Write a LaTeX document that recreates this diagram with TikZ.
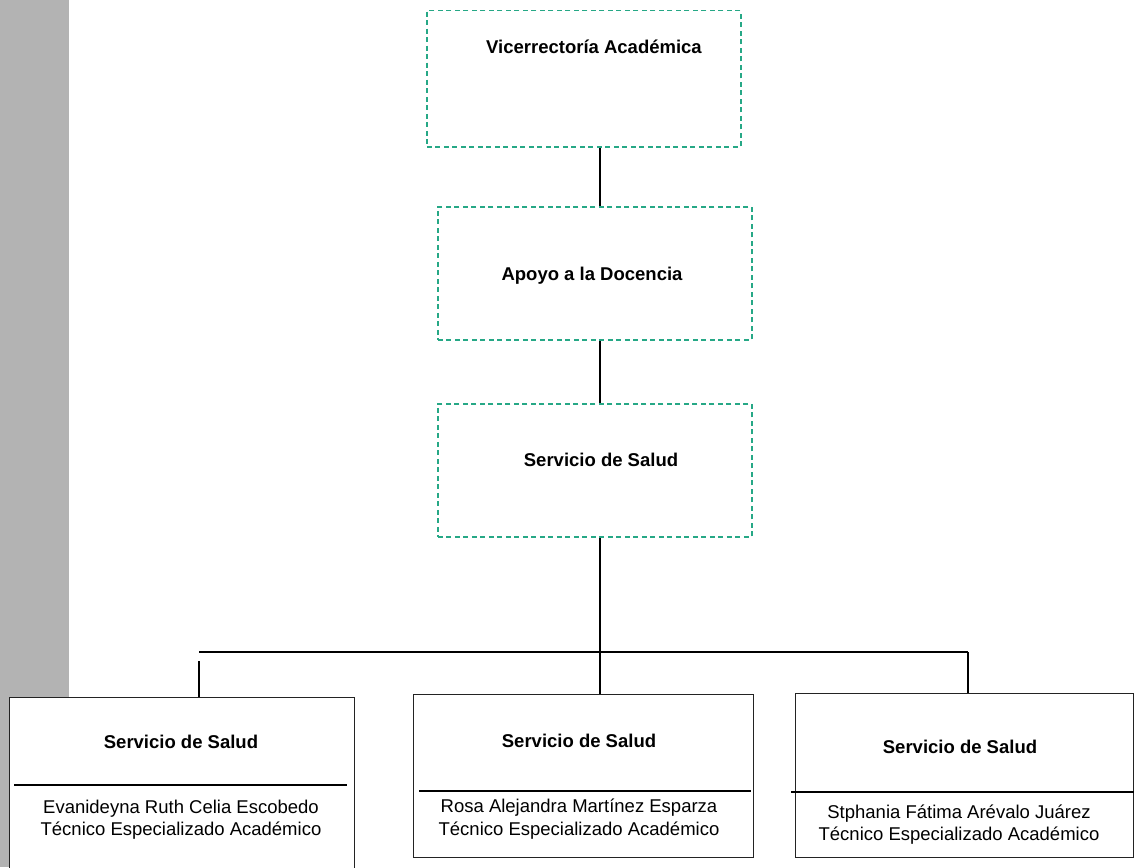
\documentclass[tikz,border=0pt]{standalone}
\usepackage{fontspec}
\setmainfont{Liberation Sans}
\definecolor{barGray}{RGB}{179,179,179}
\definecolor{unitGreen}{RGB}{38,168,134}
\definecolor{frameInk}{RGB}{35,35,35}
\tikzset{
  unitbox/.style={draw=unitGreen, line width=1.5pt, dash pattern=on 5pt off 3.5pt,
    rectangle, anchor=north west, inner sep=0pt},
  staffbox/.style={draw=frameInk, line width=1.4pt, fill=white,
    rectangle, anchor=north west, inner sep=0pt},
  title/.style={font=\fontsize{18.5}{20}\selectfont\bfseries, anchor=base, inner sep=0pt},
  person/.style={font=\fontsize{18.5}{20}\selectfont, anchor=base, inner sep=0pt},
  link/.style={draw=black, line width=2pt},
  divider/.style={draw=black, line width=2.4pt},
}
\begin{document}
\begin{tikzpicture}[x=1pt, y=-1pt]
  \useasboundingbox (0,0) rectangle (1134,867);
  \clip (0,0) rectangle (1134,867);
  % side band
  \fill[barGray] (0,0) rectangle (69,867);

  % upper units
  \node[unitbox, minimum width=314pt, minimum height=136pt] (vice) at (426,10) {};
  \node[title] (viceT) at (594,54) {Vicerrectoría Académica};
  \node[unitbox, minimum width=314pt, minimum height=133pt] (apoyo) at (437,206) {};
  \node[title] (apoyoT) at (592,280) {Apoyo a la Docencia};
  \node[unitbox, minimum width=314pt, minimum height=133pt] (salud) at (437,403) {};
  \node[title] (saludT) at (601,466) {Servicio de Salud};

  % vertical spine
  \coordinate (spine) at (600,0);
  \draw[link] (vice.south -| spine) -- (apoyo.north -| spine);
  \draw[link] (apoyo.south -| spine) -- (salud.north -| spine);

  % staff boxes
  \node[staffbox, minimum width=345pt, minimum height=200pt] (boxL) at (9,697) {};
  \node[staffbox, minimum width=340pt, minimum height=163pt] (boxM) at (413,694) {};
  \node[staffbox, minimum width=338pt, minimum height=164pt] (boxR) at (795,693) {};

  % branch bus
  \coordinate (busL) at (199,652);
  \coordinate (busR) at (968,652);
  \coordinate (stubL) at (199,661);
  \draw[link] (busL) -- (busR);
  \draw[link] (salud.south -| spine) -- (boxM.north -| spine);
  \draw[link] (stubL) -- (boxL.north -| stubL);
  \draw[link] (busR) -- (boxR.north -| busR);

  % dividers
  \coordinate (divL1) at (14,785);  \coordinate (divL2) at (347,785);
  \coordinate (divM1) at (419,791); \coordinate (divM2) at (751,791);
  \coordinate (divR1) at (791,792); \coordinate (divR2) at (1134,792);
  \draw[divider] (divL1) -- (divL2);
  \draw[divider] (divM1) -- (divM2);
  \draw[divider] (divR1) -- (divR2);

  % box texts
  \node[title] (titleL) at (181,748) {Servicio de Salud};
  \node[person] (nameL) at (181,813) {Evanideyna Ruth Celia Escobedo};
  \node[person] (roleL) at (181,835) {Técnico Especializado Académico};

  \node[title] (titleM) at (579,747) {Servicio de Salud};
  \node[person] (nameM) at (579,812) {Rosa Alejandra Martínez Esparza};
  \node[person] (roleM) at (579,835) {Técnico Especializado Académico};

  \node[title] (titleR) at (960,753) {Servicio de Salud};
  \node[person] (nameR) at (959,818) {Stphania Fátima Arévalo Juárez};
  \node[person] (roleR) at (959,840) {Técnico Especializado Académico};
\end{tikzpicture}
\end{document}
